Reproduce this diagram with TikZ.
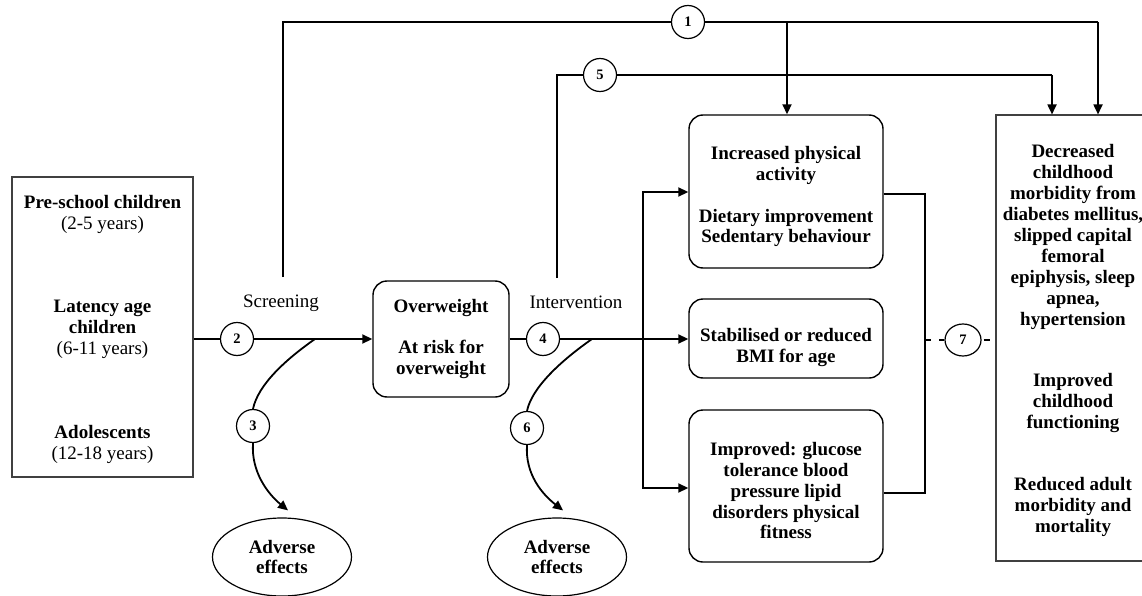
\documentclass[tikz,border=0pt]{standalone}
\usepackage{fontspec}
\setmainfont{Liberation Serif}
\usetikzlibrary{arrows.meta,shapes.geometric}
\begin{document}
\begin{tikzpicture}[x=1pt,y=-1pt,
  txt/.style={font=\fontsize{19}{20.9}\selectfont\bfseries, align=center, inner sep=0pt},
  reg/.style={font=\fontsize{19}{20.9}\selectfont, align=center, inner sep=0pt},
  sqbox/.style={draw=black!75, line width=1.1pt, inner sep=0pt},
  rbox/.style={draw, line width=1.4pt, rounded corners=14pt, inner sep=0pt},
  num/.style={draw, circle, line width=1.2pt, minimum size=33pt, inner sep=0pt, fill=white, font=\fontsize{14.5}{14.5}\selectfont\bfseries},
  conn/.style={line width=1.8pt},
  arr/.style={conn, -{Triangle[length=10pt,width=9pt]}},
  oval/.style={draw, ellipse, line width=1.2pt, minimum width=139pt, minimum height=78pt, inner sep=0pt},
]
\useasboundingbox (0,0) rectangle (1142,596);

% boxes
\node[sqbox, minimum width=181pt, minimum height=300pt] (pop) at (102.5,327) {};
\node[rbox, minimum width=136pt, minimum height=116pt] (ow) at (441,339) {};
\node[rbox, minimum width=194pt, minimum height=153pt] (inc) at (786,191.5) {};
\node[rbox, minimum width=194pt, minimum height=79pt] (stab) at (786,338.5) {};
\node[rbox, minimum width=194pt, minimum height=152pt] (imp) at (786,486) {};
\node[sqbox, minimum width=154pt, minimum height=446pt] (out) at (1073,338) {};
\node[oval] (ae1) at (282,557) {};
\node[oval] (ae2) at (557,557) {};

% texts
\node[txt] (t1) at (102.5,214.5) {Pre-school children\\{\mdseries (2-5 years)}};
\node[txt] (t2) at (102.5,329) {Latency age\\children\\{\mdseries (6-11 years)}};
\node[txt] (t3) at (102.5,444.5) {Adolescents\\{\mdseries (12-18 years)}};
\node[txt] (t4) at (441,339) {Overweight\\[20.3pt]At risk for\\overweight};
\node[txt] (t5) at (786,196.6) {Increased physical\\activity\\[21pt]Dietary improvement\\Sedentary behaviour};
\node[txt] (t6) at (786,347.6) {Stabilised or reduced\\BMI for age};
\node[txt] (t7) at (786,490.6) {Improved: glucose\\tolerance blood\\pressure lipid\\disorders physical\\fitness};
\node[txt] (t8) at (1073,340.6) {Decreased\\childhood\\morbidity from\\diabetes mellitus,\\slipped capital\\femoral\\epiphysis, sleep\\apnea,\\hypertension\\[41pt]Improved\\childhood\\functioning\\[41pt]Reduced adult\\morbidity and\\mortality};
\node[txt] (t9) at (282,557) {Adverse\\effects};
\node[txt] (t10) at (557,557) {Adverse\\effects};
\node[reg] (scr) at (281,303) {Screening};
\node[reg] (itv) at (576,302) {Intervention};

% numbered circles
\node[num] (c1) at (688,22) {1};
\node[num] (c2) at (237,339) {2};
\node[num] (c3) at (253,426) {3};
\node[num] (c4) at (543,339) {4};
\node[num] (c5) at (600,75) {5};
\node[num] (c6) at (527,428) {6};
\node[num, ellipse, minimum width=36pt, minimum height=32pt] (c7) at (963,340) {7};

% coordinates
\coordinate (v1b) at (283,277);
\coordinate (v1t) at (283,22);
\coordinate (v1m) at (787,22);
\coordinate (v1r) at (1098,22);
\coordinate (v5b) at (557,278);
\coordinate (v5t) at (557,75);
\coordinate (v5r) at (1052,75);
\coordinate (bm) at (643,339);
\coordinate (bt) at (643,192);
\coordinate (bb) at (643,488);
\coordinate (k1) at (925,194);
\coordinate (k2) at (925,493);
\coordinate (sc) at (315,339);
\coordinate (ic) at (592,339);

% path 1
\draw[conn] (v1b) -- (v1t) -- (c1);
\draw[conn] (c1) -- (v1r);
\draw[arr] (v1r) -- (v1r |- out.north);
\draw[arr] (v1m) -- (v1m |- inc.north);
% path 5
\draw[conn] (v5b) -- (v5t) -- (c5);
\draw[conn] (c5) -- (v5r);
\draw[arr] (v5r) -- (v5r |- out.north);
% main line
\draw[conn] (pop.east |- c2) -- (c2);
\draw[arr] (c2) -- (c2 -| ow.west);
\draw[conn] (ow.east |- c4) -- (c4);
\draw[arr] (c4) -- (c4 -| stab.west);
\draw[arr] (bm) -- (bt) -- (bt -| inc.west);
\draw[arr] (bm) -- (bb) -- (bb -| imp.west);
% bracket and 7
\draw[conn] (k1 -| inc.east) -- (k1) -- (k2) -- (k2 -| imp.east);
\draw[conn, dash pattern=on 6pt off 8pt] (k1 |- c7) -- (c7);
\draw[conn, dash pattern=on 6pt off 8pt] ([xshift=2pt]c7.east) -- (c7 -| out.west);
% adverse effect curves
\draw[conn] (sc) .. controls (285,360) and (258,385) .. (c3.north);
\draw[arr] (c3.south) .. controls (251,472) and (268,494) .. ([xshift=6pt,yshift=7pt]ae1.north);
\draw[conn] (ic) .. controls (562,360) and (532,387) .. (c6.north);
\draw[arr] (c6.south) .. controls (525,474) and (542,494) .. ([xshift=6pt,yshift=7pt]ae2.north);
\end{tikzpicture}
\end{document}
